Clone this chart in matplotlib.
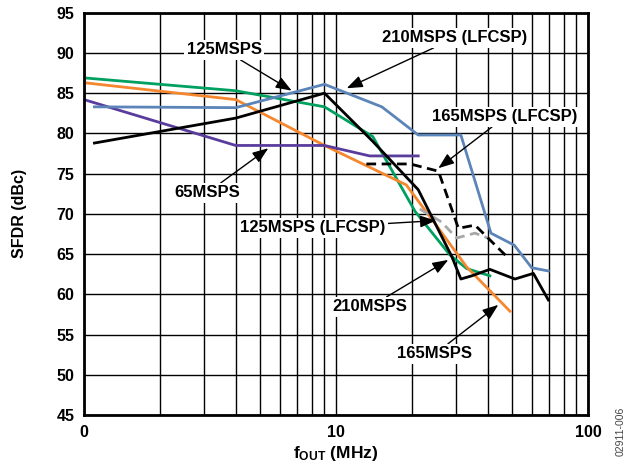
import matplotlib
matplotlib.use("Agg")
import matplotlib.pyplot as plt
from matplotlib.ticker import FixedLocator, NullFormatter

plt.rcParams['font.family'] = ['Liberation Sans', 'DejaVu Sans']
plt.rcParams['mathtext.fontset'] = 'custom'
plt.rcParams['mathtext.rm'] = 'Liberation Sans:bold'
plt.rcParams['mathtext.bf'] = 'Liberation Sans:bold'
plt.rcParams['mathtext.it'] = 'Liberation Sans:bold'

# Data (fOUT in MHz, SFDR in dBc)
x_125 = [1.0, 4, 9, 14, 20.6, 28.3, 33, 40.8]
y_125 = [86.9, 85.3, 83.3, 79.6, 70.3, 64.9, 63.2, 62.3]

x_165 = [1.0, 4, 9, 19, 24.7, 33, 49]
y_165 = [86.3, 84.2, 78.5, 73.6, 68.8, 63.4, 57.9]

x_65 = [1.0, 4, 9, 13.6, 21.2]
y_65 = [84.2, 78.5, 78.5, 77.2, 77.2]

x_210 = [1.1, 4, 9, 14, 21.2, 28.8, 31.3, 34.6, 40.8, 51.3, 60.7, 69.6]
y_210 = [78.8, 81.9, 85.0, 79.0, 73.0, 64.7, 61.9, 62.3, 63.1, 61.9, 62.6, 59.3]

x_210L = [1.1, 4, 9, 15.2, 21.2, 31.3, 41.2, 51, 59.8, 69.6]
y_210L = [83.3, 83.2, 86.1, 83.3, 79.8, 79.8, 67.6, 66.1, 63.3, 62.9]

x_165L = [13.2, 19.7, 25.5, 30.6, 35.6, 48.3]
y_165L = [76.2, 76.2, 75.3, 68.2, 68.6, 64.5]

x_125L = [21.5, 26.2, 30.1, 35.6, 40.8]
y_125L = [70.6, 69.0, 67.0, 67.6, 66.9]

x_ticks = [1, 10, 100]
x_tick_labels = ["0", "10", "100"]
y_ticks = [45, 50, 55, 60, 65, 70, 75, 80, 85, 90, 95]

fig = plt.figure(figsize=(6.3, 4.66), dpi=100)
ax = fig.add_axes([84/630, 1-415/466, 504/630, (415-12.7)/466])
ax.set_xscale('log')
ax.set_xlim(1, 100)
ax.set_ylim(45, 95)

minor = [m*d for d in (1, 10) for m in range(2, 10)]
ax.xaxis.set_major_locator(FixedLocator(x_ticks))
ax.xaxis.set_minor_locator(FixedLocator(minor))
ax.xaxis.set_minor_formatter(NullFormatter())
ax.set_xticklabels(x_tick_labels)
ax.set_yticks(y_ticks)
ax.grid(True, which='both', color='black', linewidth=1.0)
ax.tick_params(which='both', length=0, labelsize=11.5, pad=7)
for lab in ax.get_xticklabels() + ax.get_yticklabels():
    lab.set_fontweight('bold')
for s in ax.spines.values():
    s.set_linewidth(2)
ax.set_axisbelow(True)

lw = 2
ax.plot(x_125, y_125, color='#00A060', lw=lw)
ax.plot(x_165, y_165, color='#F5872F', lw=lw)
ax.plot(x_65, y_65, color='#5A3C9C', lw=lw)
ax.plot(x_210L, y_210L, color='#5B84B8', lw=lw)
ax.plot(x_125L, y_125L, color='#A8A8A8', lw=lw, ls=(0, (3.5, 2)))
ax.plot(x_165L, y_165L, color='black', lw=lw, ls=(0, (3.5, 2)))
ax.plot(x_210, y_210, color='black', lw=lw)

ax.set_ylabel('SFDR (dBc)', fontsize=11.5, fontweight='bold', labelpad=21)
ax.set_xlabel(r'$\mathregular{f_{OUT}}$ (MHz)', fontsize=12.5, fontweight='bold', labelpad=3)

def ann(text, xy, xytext):
    ax.annotate(text, xy=xy, xytext=xytext, textcoords='data',
                fontsize=12, fontweight='bold', ha='center', va='center',
                bbox=dict(boxstyle='square,pad=0.15', fc='white', ec='none'),
                arrowprops=dict(arrowstyle='-|>,head_length=0.8,head_width=0.3',
                                color='black', lw=1, shrinkA=0, shrinkB=0))

def px(xp, yp):
    return 10 ** ((xp - 84) / 252), 95 - (yp - 12.7) / 8.05

# annotation positions (text centres and arrow tips)
ann('125MSPS', px(291.7, 90.7), px(224, 50))
ann('210MSPS (LFCSP)', px(346.7, 88.3), px(455, 38))
ann('165MSPS (LFCSP)', px(438.3, 168.3), px(505, 117))
ann('65MSPS', px(268.3, 148.3), px(207, 193))
ann('125MSPS (LFCSP)', px(436, 220.7), px(313, 228))
ann('210MSPS', px(448.3, 260), px(370, 307))
ann('165MSPS', px(498.3, 305), px(435, 354))

fig.text(0.985, 0.075, '02911-006', rotation=90, fontsize=7.5, color='#444444',
         ha='center', va='center')

fig.savefig('out.png', dpi=100)
